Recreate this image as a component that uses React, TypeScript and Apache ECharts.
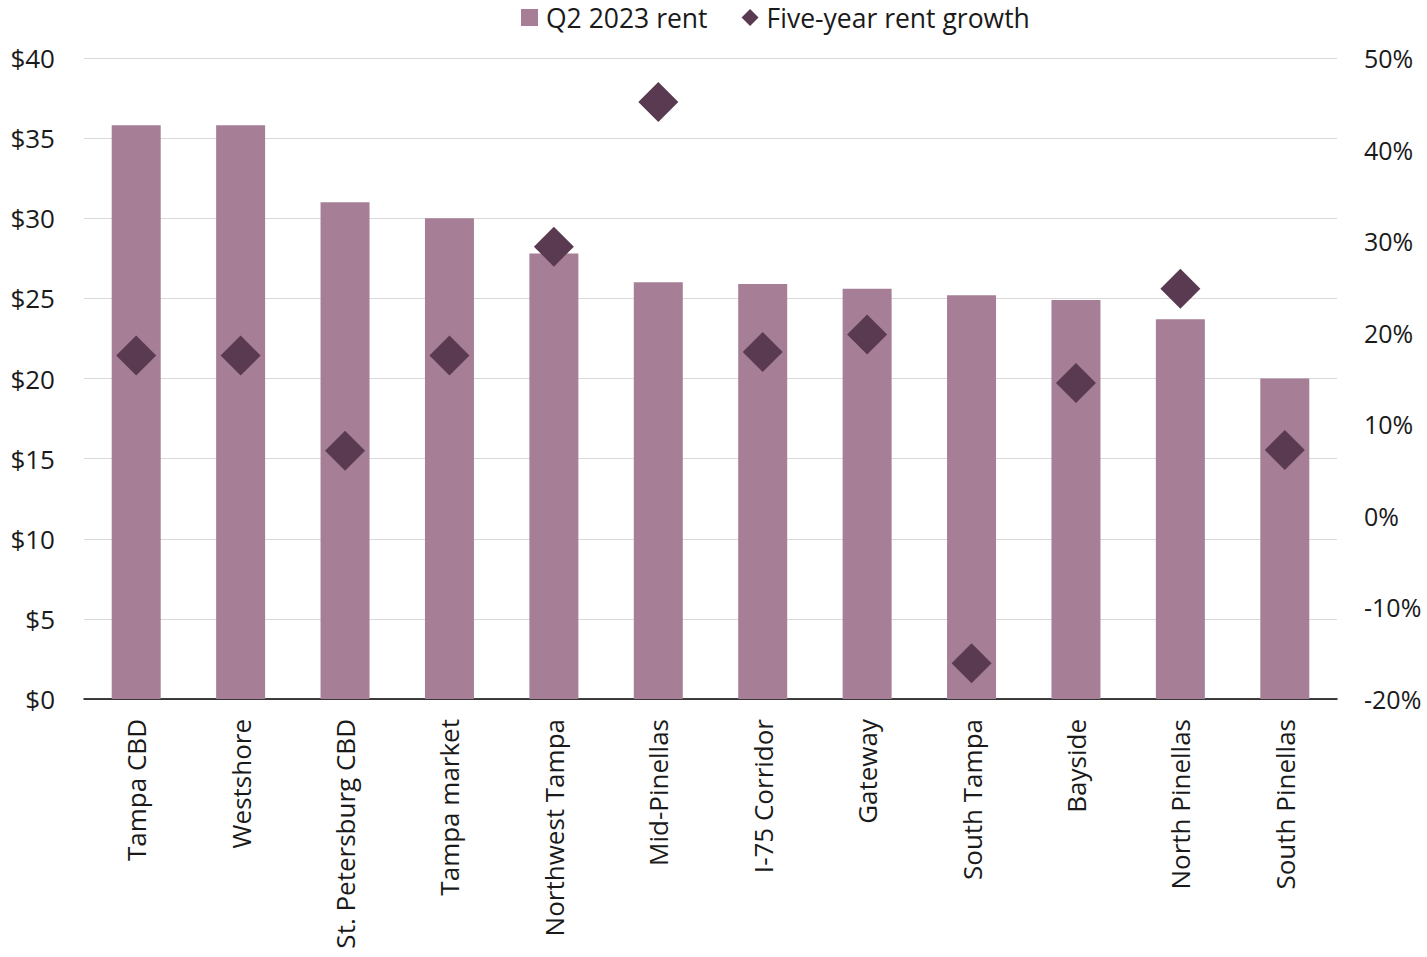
import React, { useEffect, useRef } from "react";
import * as echarts from "echarts";

const categories = [
  "Tampa CBD",
  "Westshore",
  "St. Petersburg CBD",
  "Tampa market",
  "Northwest Tampa",
  "Mid-Pinellas",
  "I-75 Corridor",
  "Gateway",
  "South Tampa",
  "Bayside",
  "North Pinellas",
  "South Pinellas",
];

const rentQ2 = [35.8, 35.8, 31.0, 30.0, 27.8, 26.0, 25.9, 25.6, 25.2, 24.9, 23.7, 20.0];
const growth = [17.5, 17.5, 7.1, 17.5, 29.4, 45.2, 17.9, 19.8, -16.1, 14.5, 24.8, 7.2];

const barName = "Q2 2023 rent";
const growthName = "Five-year rent growth";

const FONT = "'Open Sans', 'Noto Sans', sans-serif";

export default function App() {
  const ref = useRef<HTMLDivElement>(null);
  useEffect(() => {
    if (!ref.current) return;
    const chart = echarts.init(ref.current, null, { renderer: "svg" });
    chart.setOption({
      animation: false,
      textStyle: { fontFamily: FONT },
      legend: {
        top: -1,
        left: 516,
        itemWidth: 17,
        itemHeight: 17,
        itemGap: 34,
        textStyle: { fontFamily: FONT, fontSize: 26.5, color: "#1a1a1a", padding: [0, 0, 0, 3] },
        data: [
          { name: barName, icon: "rect" },
          { name: growthName, icon: "diamond" },
        ],
      },
      grid: { left: 84, right: 90, top: 58, bottom: 258, containLabel: false },
      xAxis: {
        type: "category",
        data: categories,
        axisLine: { lineStyle: { color: "#000", width: 1.5 } },
        axisTick: { show: false },
        axisLabel: {
          rotate: 90,
          margin: 20,
          fontFamily: FONT,
          fontSize: 26,
          color: "#1a1a1a",
          interval: 0,
        },
      },
      yAxis: [
        {
          type: "value",
          min: 0,
          max: 40,
          interval: 5,
          axisLine: { show: false },
          axisTick: { show: false },
          splitLine: { lineStyle: { color: "#d9d9d9", width: 1.2 } },
          axisLabel: {
            formatter: "${value}",
            margin: 29,
            fontFamily: FONT,
            fontSize: 26,
            color: "#1a1a1a",
          },
        },
        {
          type: "value",
          min: -20,
          max: 50,
          interval: 10,
          axisLine: { show: false },
          axisTick: { show: false },
          splitLine: { show: false },
          axisLabel: {
            formatter: "{value}%",
            margin: 27,
            fontFamily: FONT,
            fontSize: 25,
            color: "#1a1a1a",
          },
        },
      ],
      series: [
        {
          name: barName,
          type: "bar",
          data: rentQ2,
          barWidth: 49,
          itemStyle: { color: "#a67f97" },
          yAxisIndex: 0,
        },
        {
          name: growthName,
          type: "scatter",
          data: growth,
          yAxisIndex: 1,
          symbol: "diamond",
          symbolSize: 40,
          itemStyle: { color: "#5a3a50", opacity: 1 },
          z: 5,
        },
      ],
    });
    return () => chart.dispose();
  }, []);
  return (
    <div
      ref={ref}
      style={{ position: "absolute", left: 0, top: 0, width: 1427, height: 957 }}
    />
  );
}
